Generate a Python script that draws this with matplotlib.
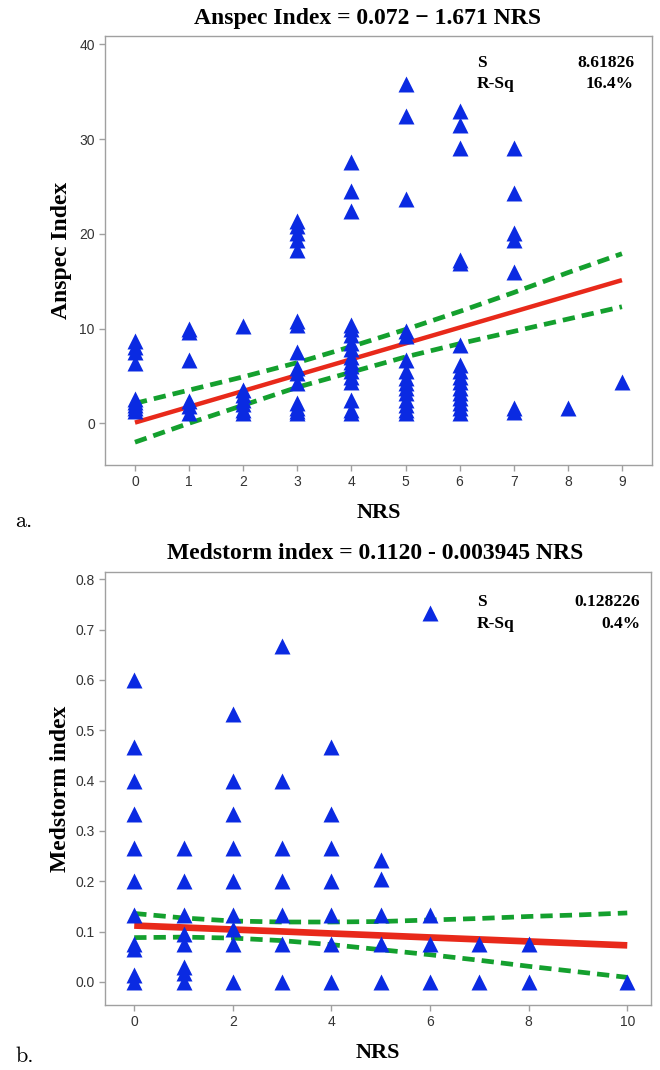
import matplotlib
matplotlib.use('Agg')
import matplotlib.pyplot as plt
import numpy as np

# panel a: Anspec index vs NRS (values read per NRS column)
anspec_nrs = ([0] * 9 + [1] * 6 + [2] * 7 + [3] * 15 + [4] * 17 + [5] * 15
              + [6] * 16 + [7] * 7 + [8] + [9])
anspec_index = [
    8.7, 8.1, 7.5, 6.4, 2.6, 2.2, 1.9, 1.6, 1.3,
    10.0, 9.6, 6.7, 2.3, 1.8, 1.1,
    10.3, 3.5, 3.0, 2.5, 2.0, 1.4, 1.1,
    21.4, 20.8, 20.1, 19.4, 18.3, 10.8, 10.4, 7.5, 5.8, 5.3, 4.2, 2.1, 1.6, 1.3, 1.1,
    27.6, 24.5, 22.4, 10.4, 9.9, 9.3, 8.5, 7.8, 7.0, 6.5, 6.0, 5.5, 4.9, 4.4, 2.5, 1.4, 1.1,
    35.8, 32.4, 23.7, 9.7, 9.2, 6.7, 5.5, 4.8, 4.2, 3.7, 3.2, 2.5, 1.9, 1.4, 1.1,
    33.0, 31.5, 29.1, 17.2, 16.9, 8.3, 6.2, 5.5, 4.9, 4.4, 3.7, 3.2, 2.7, 2.1, 1.6, 1.1,
    29.1, 24.3, 20.1, 19.4, 16.0, 1.6, 1.2,
    1.6,
    4.4,
]
anspec_fit_x = [0, 1, 2, 3, 4, 5, 6, 7, 8, 9]
anspec_fit = [0.07, 1.74, 3.41, 5.09, 6.76, 8.43, 10.10, 11.77, 13.44, 15.11]
anspec_ci_hi = [2.1, 3.5, 4.9, 6.4, 8.1, 9.9, 11.8, 13.8, 15.9, 17.9]
anspec_ci_lo = [-2.0, 0.0, 1.9, 3.8, 5.4, 7.0, 8.4, 9.7, 11.0, 12.3]

# panel b: Medstorm index vs NRS
med_nrs = ([0] * 11 + [1] * 8 + [2] * 9 + [3] * 7 + [4] * 7 + [5] * 5
           + [6] * 4 + [7] * 2 + [8] * 2 + [10])
med_index = [
    0.60, 0.467, 0.40, 0.333, 0.267, 0.20, 0.133, 0.075, 0.065, 0.013, 0.0,
    0.267, 0.20, 0.133, 0.096, 0.076, 0.029, 0.017, 0.0,
    0.533, 0.40, 0.333, 0.267, 0.20, 0.133, 0.106, 0.076, 0.0,
    0.667, 0.40, 0.267, 0.20, 0.133, 0.076, 0.0,
    0.467, 0.333, 0.267, 0.20, 0.133, 0.076, 0.0,
    0.243, 0.205, 0.133, 0.076, 0.0,
    0.733, 0.133, 0.076, 0.0,
    0.076, 0.0,
    0.076, 0.0,
    0.0,
]
med_fit_x = [0, 1, 2, 3, 4, 5, 6, 7, 8, 9, 10]
med_fit = [0.112, 0.1081, 0.1041, 0.1002, 0.0962, 0.0923, 0.0883, 0.0844, 0.0804, 0.0765, 0.0726]
med_ci_hi = [0.136, 0.127, 0.121, 0.119, 0.119, 0.120, 0.123, 0.126, 0.130, 0.133, 0.137]
med_ci_lo = [0.088, 0.089, 0.087, 0.082, 0.074, 0.064, 0.054, 0.043, 0.031, 0.020, 0.009]

BLUE = '#0a2ae2'
RED = '#e8291a'
GREEN = '#14a02e'
SERIF = 'Liberation Serif'


def draw_panel(ax, x, y, fx, fit, hi, lo, red_lw, title, title_x, ylabel, ypad,
               s_val, rsq, stat_y, stat_right):
    ax.plot(fx, hi, color=GREEN, lw=3.4, ls=(0, (2.6, 1.5)), zorder=2)
    ax.plot(fx, lo, color=GREEN, lw=3.4, ls=(0, (2.6, 1.5)), zorder=2)
    ax.plot(fx, fit, color=RED, lw=red_lw, solid_capstyle='butt', zorder=3)
    ax.scatter(x, y, marker='^', s=11.5 ** 2, color=BLUE, linewidths=0, zorder=4)

    for sp in ax.spines.values():
        sp.set_color('#a0a0a0')
        sp.set_linewidth(1.0)
    ax.tick_params(colors='#a0a0a0', labelcolor='#333333', length=4, width=1,
                   labelsize=10)
    for lab in ax.get_xticklabels() + ax.get_yticklabels():
        lab.set_family('Liberation Sans')

    ax.set_xlabel('NRS', family=SERIF, fontweight='bold', fontsize=16, labelpad=10)
    ax.set_ylabel(ylabel, family=SERIF, fontweight='bold', fontsize=17, labelpad=ypad)
    fig.text(title_x, ax.get_position().y1 + 0.007, title, family=SERIF,
             fontweight='bold', fontsize=17, ha='center', va='bottom')

    fy0, fy1 = stat_y
    fig.text(476.7 / 660, 1 - fy0 / 1070, 'S', family=SERIF, fontweight='bold',
             fontsize=12.5, va='center', ha='left')
    fig.text(476.7 / 660, 1 - fy1 / 1070, 'R-Sq', family=SERIF, fontweight='bold',
             fontsize=12.5, va='center', ha='left')
    fig.text(stat_right / 660, 1 - fy0 / 1070, s_val, family=SERIF, fontweight='bold',
             fontsize=12.5, va='center', ha='right')
    fig.text(stat_right / 660, 1 - fy1 / 1070, rsq, family=SERIF, fontweight='bold',
             fontsize=12.5, va='center', ha='right')


fig = plt.figure(figsize=(6.6, 10.7), dpi=100)
ax1 = fig.add_axes([0.1595, 0.5654, 0.828, 0.4009])
ax2 = fig.add_axes([0.1590, 0.0607, 0.828, 0.4050])

ax1.set_xlim(-0.549, 9.551)
ax1.set_ylim(-4.41, 40.88)
ax1.set_xticks(range(0, 10))
ax1.set_yticks([0, 10, 20, 30, 40])

ax2.set_xlim(-0.594, 10.49)
ax2.set_ylim(-0.046, 0.815)
ax2.set_xticks([0, 2, 4, 6, 8, 10])
ax2.set_yticks([0.0, 0.1, 0.2, 0.3, 0.4, 0.5, 0.6, 0.7, 0.8])
ax2.set_yticklabels(['0.0', '0.1', '0.2', '0.3', '0.4', '0.5', '0.6', '0.7', '0.8'])

draw_panel(ax1, anspec_nrs, anspec_index, anspec_fit_x, anspec_fit,
           anspec_ci_hi, anspec_ci_lo, 3.2,
           'Anspec Index = 0.072 \u2212 1.671 NRS', 368 / 660, 'Anspec Index', 5,
           '8.61826', '16.4%', (62.7, 83.5), 634.0)
draw_panel(ax2, med_nrs, med_index, med_fit_x, med_fit,
           med_ci_hi, med_ci_lo, 4.8,
           'Medstorm index = 0.1120 - 0.003945 NRS', 375 / 660, 'Medstorm index', 3,
           '0.128226', '0.4%', (601.7, 624.0), 640.0)

fig.text(15 / 660, 1 - 521 / 1070, 'a.', family='cmr10', fontsize=16, va='center')
fig.text(15 / 660, 1 - 1056 / 1070, 'b.', family='cmr10', fontsize=16, va='center')

fig.savefig('out.png', dpi=100)
